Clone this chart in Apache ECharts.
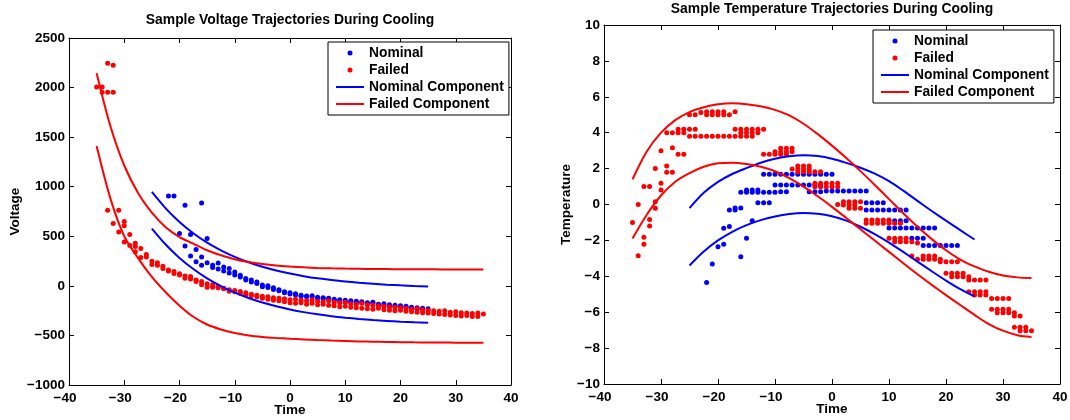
<!DOCTYPE html>
<html><head><meta charset="utf-8">
<script src="https://cdn.jsdelivr.net/npm/echarts@6/dist/echarts.min.js"></script>
<style>html,body{margin:0;padding:0;background:#fff}#c{width:1070px;height:420px}</style>
</head><body><div id="c"></div>
<script>
// ---------- data ----------
// component curves sampled every 2.5 time units
const failedCurveX = [-35,-32.5,-30,-27.5,-25,-22.5,-20,-17.5,-15,-12.5,-10,-7.5,-5,-2.5,0,2.5,5,7.5,10,12.5,15,17.5,20,22.5,25,27.5,30,32.5,35];
const nominalCurveX = [-25,-22.5,-20,-17.5,-15,-12.5,-10,-7.5,-5,-2.5,0,2.5,5,7.5,10,12.5,15,17.5,20,22.5,25];

const voltFailedUpper = [2145,1610,1214,937,739,591,492,426,359,308,268,240,220,205,195,187,181,177,174,172,170,169,168,167,167,166,166,165,165];
const voltFailedLower = [1410,880,500,280,90,-65,-200,-312,-390,-440,-475,-500,-515,-525,-533,-540,-547,-552,-556,-560,-563,-566,-568,-570,-571,-572,-573,-574,-575];
const voltNominalUpper = [947,782,645,531,436,358,292,238,192,155,124,98,76,58,43,31,21,12,5,-1,-6];
const voltNominalLower = [578,417,282,170,76,-2,-68,-122,-168,-206,-238,-265,-287,-306,-321,-334,-345,-354,-362,-368,-373];

const tempFailedUpper = [1.4,2.95,4.0,4.7,5.15,5.42,5.58,5.64,5.59,5.47,5.27,4.96,4.5,3.92,3.28,2.59,1.86,1.09,0.3,-0.49,-1.24,-1.93,-2.55,-3.07,-3.45,-3.75,-3.95,-4.06,-4.1];
const tempFailedLower = [-1.9,-0.57,0.5,1.27,1.75,2.1,2.3,2.33,2.25,2.1,1.85,1.47,1.0,0.46,-0.13,-0.75,-1.38,-2.01,-2.64,-3.27,-3.89,-4.48,-5.05,-5.6,-6.15,-6.66,-7.03,-7.28,-7.38];
const tempNominalUpper = [-0.2,0.65,1.26,1.7,2.03,2.33,2.55,2.69,2.75,2.7,2.55,2.32,2.05,1.72,1.3,0.77,0.2,-0.36,-0.9,-1.43,-1.95];
const tempNominalLower = [-3.4,-2.62,-2.0,-1.52,-1.15,-0.87,-0.67,-0.53,-0.47,-0.52,-0.66,-0.9,-1.24,-1.65,-2.12,-2.64,-3.18,-3.72,-4.24,-4.72,-5.12];

// measured points: [time, [values at that time]]
const voltNominalPts = [[-22,[907]],[-21,[907]],[-20,[528]],[-19,[813,403]],[-18,[518,302]],[-17,[367,242]],[-16,[836,292,209]],[-15,[478,232]],[-14,[209,185]],[-13,[230,170]],[-12,[190,150]],[-11,[175,130]],[-10,[141,110]],[-9,[108,90]],[-8,[75,60]],[-7,[58,40]],[-6,[24,40]],[-5,[8,-10]],[-4,[-16,0]],[-3,[-36,-20]],[-2,[-50,-40]],[-1,[-60,-70]],[0,[-83,-70]],[1,[-93,-80]],[2,[-95,-105]],[3,[-103,-110]],[4,[-110,-100]],[5,[-115,-125]],[6,[-120,-130]],[7,[-130,-125]],[8,[-135,-145]],[9,[-140,-150]],[10,[-160,-145]],[11,[-150,-165]],[12,[-165,-155]],[13,[-170,-160]],[14,[-171,-180]],[15,[-175,-165]],[16,[-185,-190]],[17,[-180,-195]],[18,[-211,-190]],[19,[-195,-205]],[20,[-210,-200]],[21,[-205,-215]],[22,[-228,-215]],[23,[-220,-230]],[24,[-225,-235]],[25,[-230]]];
const voltFailedPts = [[-35,[2005]],[-34,[2005,1954]],[-33,[1954,2246,763]],[-32,[1954,2226,629]],[-31,[763,544]],[-30,[650,607,443]],[-29,[518,407]],[-28,[430,396,343]],[-27,[376,286]],[-26,[316,290]],[-25,[249,215]],[-24,[232,208]],[-23,[198,175]],[-22,[161,150]],[-21,[144,125]],[-20,[121,110]],[-19,[100,77]],[-18,[94,70]],[-17,[60,43]],[-16,[43,10]],[-15,[20,-14]],[-14,[10,-14]],[-13,[-5,-20]],[-12,[-24,-30]],[-11,[-40,-55]],[-10,[-48,-60]],[-9,[-58,-75]],[-8,[-70,-90]],[-7,[-85,-100]],[-6,[-95,-110]],[-5,[-105,-125]],[-4,[-110,-135]],[-3,[-120,-145]],[-2,[-125,-150]],[-1,[-130,-160]],[0,[-140,-170]],[1,[-135,-175]],[2,[-145,-170]],[3,[-150,-185]],[4,[-140,-175]],[5,[-155,-190]],[6,[-160,-185]],[7,[-150,-195]],[8,[-165,-200]],[9,[-170,-210]],[10,[-165,-205]],[11,[-180,-215]],[12,[-185,-220]],[13,[-175,-225]],[14,[-190,-230]],[15,[-195,-235]],[16,[-200,-225]],[17,[-205,-240]],[18,[-210,-245]],[19,[-215,-250]],[20,[-220,-245]],[21,[-225,-255]],[22,[-235,-260]],[23,[-230,-265]],[24,[-240,-270]],[25,[-245,-275]],[26,[-250,-280]],[27,[-255,-285]],[28,[-250,-290]],[29,[-265,-295]],[30,[-260,-300]],[31,[-270,-305]],[32,[-275,-300]],[33,[-280,-310]],[34,[-275,-310]],[35,[-285]]];

const tempNominalPts = [[-22,[-4.34]],[-21,[-3.31]],[-20,[-2.35]],[-19,[-2.22,-1.33]],[-18,[-1.23,-0.31]],[-17,[-0.2,-0.3]],[-16,[-2.91,-0.2,0.68]],[-15,[-1.88,0.68,0.81]],[-14,[-0.9,0.68,0.81]],[-13,[0.68,0.81,0.1]],[-12,[1.68,0.68,0.1]],[-11,[1.68,0.68,0.1]],[-10,[1.68,1.09,0.68]],[-9,[1.68,1.09,0.71]],[-8,[1.68,1.09,0.71]],[-7,[1.68,1.09]],[-6,[1.68,1.09]],[-5,[1.68,1.09]],[-4,[1.68,1.09,0.71]],[-3,[1.68,1.09,0.71]],[-2,[1.68,1.09,0.71]],[-1,[1.68,0.75]],[0,[1.68,0.75]],[1,[0.75]],[2,[0.75]],[3,[0.75]],[4,[0.75]],[5,[0.75]],[6,[0.75,0.1,-0.31]],[7,[0.1,-0.31]],[8,[0.1,-0.31]],[9,[0.1,-0.31]],[10,[-0.31,-0.9,-1.31]],[11,[-0.31,-0.9,-1.31]],[12,[-0.31,-0.9,-1.31]],[13,[-0.31,-0.9,-1.31]],[14,[-1.31,-1.88]],[15,[-1.31,-1.88]],[16,[-1.31,-1.88,-2.29]],[17,[-1.31,-2.29]],[18,[-1.31,-2.29]],[19,[-2.29]],[20,[-2.29]],[21,[-2.29]],[22,[-2.29]]];
const tempFailedPts = [[-35,[-1.0]],[-34,[0.0,-2.85]],[-33,[1.0,-1.83,-2.22]],[-32,[1.0,-0.83,-1.2]],[-31,[2.0,0.16,-0.21]],[-30,[3.0,1.18,0.81]],[-29,[4.0,2.15,1.79]],[-28,[4.0,3.16,1.79]],[-27,[4.19,4.0,2.8]],[-26,[4.19,4.0,2.8]],[-25,[5.0,4.19,3.8]],[-24,[5.0,4.19,3.8]],[-23,[5.12,3.8]],[-22,[5.17,5.0,3.8]],[-21,[5.17,5.0,3.8]],[-20,[5.17,5.0,3.8]],[-19,[5.17,5.0,3.8]],[-18,[5.0,3.8]],[-17,[5.17,4.19,3.8]],[-16,[4.19,4.0,3.8]],[-15,[4.19,4.0,3.8]],[-14,[4.19,4.0,3.8]],[-13,[4.19,4.0]],[-12,[4.19,2.8]],[-11,[2.8]],[-10,[2.94,2.8]],[-9,[3.13,2.94,2.8]],[-8,[3.13,2.94,2.8]],[-7,[3.13,2.94,1.98]],[-6,[2.15,1.98,1.83]],[-5,[2.15,1.98,1.83]],[-4,[2.15,1.98,1.83]],[-3,[1.83,1.18,0.99]],[-2,[1.83,1.18,0.99]],[-1,[1.18,0.99]],[0,[1.18,0.99]],[1,[1.18,0.99,0.0]],[2,[0.16,-0.03]],[3,[0.16,-0.03,-0.21]],[4,[0.16,-0.03,-0.21]],[5,[0.16,-0.21]],[6,[-0.86,-1.05]],[7,[-0.86,-1.05]],[8,[-0.86,-1.05]],[9,[-0.86,-1.05]],[10,[-0.86,-1.05,-1.88]],[11,[-1.05,-1.88,-2.07]],[12,[-1.05,-1.88,-2.07]],[13,[-1.88,-2.07]],[14,[-2.07,-2.87]],[15,[-2.15,-3.05]],[16,[-2.87,-3.05]],[17,[-2.87,-3.05]],[18,[-2.87,-3.05]],[19,[-3.19,-3.05]],[20,[-3.19,-3.83]],[21,[-3.19,-3.83,-4.02]],[22,[-3.19,-3.83,-4.02]],[23,[-3.83,-4.02]],[24,[-4.02,-4.21,-4.86]],[25,[-4.21,-4.86,-5.04]],[26,[-4.21,-4.86,-5.04]],[27,[-4.21,-4.86,-5.04]],[28,[-5.23,-5.84]],[29,[-5.23,-5.84,-6.03]],[30,[-5.23,-5.84,-6.03]],[31,[-5.23,-5.84,-6.03]],[32,[-6.03,-6.21,-6.84]],[33,[-6.21,-6.84,-7.03]],[34,[-6.84,-7.03]],[35,[-7.03]]];

const legendNames = ['Nominal', 'Failed', 'Nominal Component', 'Failed Component'];
const titles = ['Sample Voltage Trajectories During Cooling', 'Sample Temperature Trajectories During Cooling'];
const yNames = ['Voltage', 'Temperature'];
const xName = 'Time';

// ---------- helpers ----------
const FONT = 'Liberation Sans, Arial, sans-serif';
const BLUE = '#0000ff', RED = '#ff0000';
const fmt = v => (v < 0 ? '\u2212' + Math.abs(v) : String(v));
const fmtX = v => (v < 0 ? '{neg|\u2212' + Math.abs(v) + '}' : String(v));
const pairs = (xs, ys) => xs.map((x, i) => [x, ys[i]]);
const flat = pts => { const out = []; pts.forEach(([x, vs]) => vs.forEach(v => out.push([x, v]))); return out; };
const txt = (size) => ({ color: '#000', fontFamily: FONT, fontWeight: 'bold', fontSize: size });

function mkX(grid, pos, withLabels) {
  return {
    type: 'value', gridIndex: grid, min: -40, max: 40, interval: 10, position: pos,
    name: withLabels ? xName : '', nameLocation: 'middle', nameGap: 18, nameMoveOverlap: false, nameTextStyle: txt(13.5),
    axisLine: { onZero: false, lineStyle: { color: '#000', width: 1 } },
    axisTick: { inside: true, length: 5, lineStyle: { color: '#000', width: 1 } },
    axisLabel: withLabels ? Object.assign({ margin: 6, formatter: fmtX,
      rich: { neg: Object.assign({ padding: [0, 8, 0, 0] }, txt(13.5)) } }, txt(13.5)) : { show: false },
    splitLine: { show: false }
  };
}
function mkY(grid, pos, withLabels, min, max, step, name, gap) {
  return {
    type: 'value', gridIndex: grid, min: min, max: max, interval: step, position: pos,
    name: withLabels ? name : '', nameLocation: 'middle', nameGap: gap, nameMoveOverlap: false, nameTextStyle: txt(13.5),
    axisLine: { onZero: false, lineStyle: { color: '#000', width: 1 } },
    axisTick: { inside: true, length: 5, lineStyle: { color: '#000', width: 1 } },
    axisLabel: withLabels ? Object.assign({ margin: 4, formatter: fmt }, txt(13.5)) : { show: false },
    splitLine: { show: false }
  };
}
function scatter(name, data, color, ax) {
  return { type: 'scatter', name, data, xAxisIndex: ax, yAxisIndex: ax, symbol: 'circle', symbolSize: 5,
    itemStyle: { color, opacity: 1 }, z: 2, emphasis: { disabled: true } };
}
function line(name, data, color, ax) {
  return { type: 'line', name, data, xAxisIndex: ax, yAxisIndex: ax, symbol: 'none', showSymbol: false, smooth: 0.3,
    lineStyle: { color, width: 2 }, itemStyle: { color }, z: 3, emphasis: { disabled: true } };
}
function legend(left, top) {
  return {
    data: [
      { name: legendNames[0] },
      { name: legendNames[1] },
      { name: legendNames[2], itemStyle: { opacity: 0, color: 'rgba(0,0,0,0)' }, lineStyle: { color: BLUE, width: 2, opacity: 1 } },
      { name: legendNames[3], itemStyle: { opacity: 0, color: 'rgba(0,0,0,0)' }, lineStyle: { color: RED, width: 2, opacity: 1 } }
    ],
    orient: 'vertical', left, top,
    itemWidth: 28, itemHeight: 5, itemGap: 3, padding: [4, 5, 4, 7],
    borderColor: '#000', borderWidth: 1, borderRadius: 0, backgroundColor: '#fff',
    selectedMode: false, textStyle: txt(13.8)
  };
}

const chart = echarts.init(document.getElementById('c'), null, { renderer: 'canvas' });
chart.setOption({
  animation: false,
  backgroundColor: '#fff',
  title: [
    { text: titles[0], left: 290, top: 13, textAlign: 'center', padding: 0, textStyle: txt(13.9) },
    { text: titles[1], left: 832, top: 2, textAlign: 'center', padding: 0, textStyle: txt(13.9) }
  ],
  legend: [legend(328, 42), legend(873, 30)],
  grid: [
    { left: 69, top: 38, width: 442, height: 347, containLabel: false, outerBoundsMode: 'none' },
    { left: 604, top: 25, width: 456, height: 359, containLabel: false, outerBoundsMode: 'none' }
  ],
  xAxis: [mkX(0, 'bottom', true), mkX(0, 'top', false), mkX(1, 'bottom', true), mkX(1, 'top', false)],
  yAxis: [
    mkY(0, 'left', true, -1000, 2500, 500, yNames[0], 47), mkY(0, 'right', false, -1000, 2500, 500, '', 0),
    mkY(1, 'left', true, -10, 10, 2, yNames[1], 31), mkY(1, 'right', false, -10, 10, 2, '', 0)
  ],
  series: [
    scatter('Nominal', flat(voltNominalPts), BLUE, 0),
    scatter('Failed', flat(voltFailedPts), RED, 0),
    line('Nominal Component', pairs(nominalCurveX, voltNominalUpper), BLUE, 0),
    line('Nominal Component', pairs(nominalCurveX, voltNominalLower), BLUE, 0),
    line('Failed Component', pairs(failedCurveX, voltFailedUpper), RED, 0),
    line('Failed Component', pairs(failedCurveX, voltFailedLower), RED, 0),
    scatter('Nominal', flat(tempNominalPts), BLUE, 2),
    scatter('Failed', flat(tempFailedPts), RED, 2),
    line('Nominal Component', pairs(nominalCurveX, tempNominalUpper), BLUE, 2),
    line('Nominal Component', pairs(nominalCurveX, tempNominalLower), BLUE, 2),
    line('Failed Component', pairs(failedCurveX, tempFailedUpper), RED, 2),
    line('Failed Component', pairs(failedCurveX, tempFailedLower), RED, 2)
  ]
});
</script></body></html>
